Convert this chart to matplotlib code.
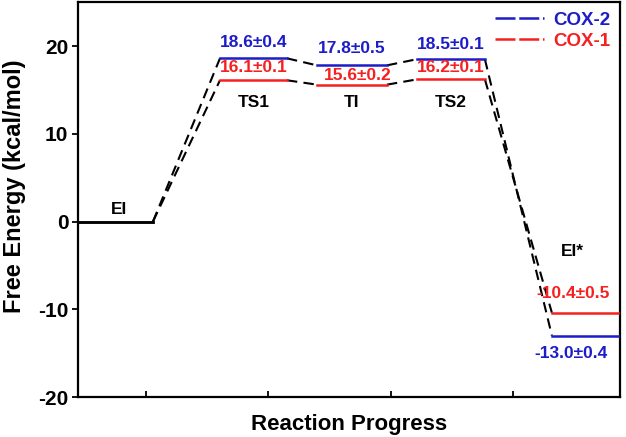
import matplotlib.pyplot as plt
from matplotlib.lines import Line2D

plt.rcParams['font.family'] = ['Liberation Sans', 'DejaVu Sans']
plt.rcParams['font.weight'] = 'bold'
plt.rcParams['axes.unicode_minus'] = False

# states along the reaction path
states = ['EI', 'TS1', 'TI', 'TS2', 'EI*']
x_start = [0.445, 1.604, 2.396, 3.212, 4.314]
x_end = [1.057, 2.151, 2.967, 3.767, 4.857]

cox2 = [0.0, 18.6, 17.8, 18.5, -13.0]
cox2_err = [None, 0.4, 0.5, 0.1, 0.4]
cox1 = [0.0, 16.1, 15.6, 16.2, -10.4]
cox1_err = [None, 0.1, 0.2, 0.1, 0.5]

blue = '#1c1cc8'
red = '#f52020'

fig = plt.figure(figsize=(6.26, 4.37), dpi=100)
ax = fig.add_axes([0.1246, 0.0915, 0.8658, 0.9035])

for energies, col in [(cox1, red), (cox2, blue)]:
    for i in range(len(states)):
        c = 'black' if i == 0 else col
        ax.plot([x_start[i], x_end[i]], [energies[i], energies[i]], color=c, lw=1.8, zorder=3)
    for i in range(len(states) - 1):
        ax.plot([x_end[i], x_start[i + 1]], [energies[i], energies[i + 1]],
                color='black', lw=1.5, ls=(0, (5, 3)), zorder=2)

# state names
name_pos = [(0.78, 1.4), (1.88, 13.6), (2.68, 13.6), (3.49, 13.6), (4.48, -3.4)]
for s, (tx, ty) in zip(states, name_pos):
    ax.text(tx, ty, s, ha='center', va='center', fontsize=12.5, fontweight='bold')

# value labels
blue_pos = [None, (1.88, 20.4), (2.68, 19.7), (3.49, 20.2), (4.47, -15.0)]
red_pos = [None, (1.88, 17.6), (2.73, 16.6), (3.49, 17.5), (4.49, -8.2)]
for i in range(1, len(states)):
    ax.text(*blue_pos[i], '%.1f±%.1f' % (cox2[i], cox2_err[i]), ha='center', va='center',
            color=blue, fontsize=12.5, fontweight='bold')
    ax.text(*red_pos[i], '%.1f±%.1f' % (cox1[i], cox1_err[i]), ha='center', va='center',
            color=red, fontsize=12.5, fontweight='bold')

ax.set_xlim(0.445, 4.87)
ax.set_ylim(-20, 25)
ax.set_xticks([1, 2, 3, 4])
ax.set_xticklabels([])
ax.set_yticks([-20, -10, 0, 10, 20])
ax.tick_params(axis='x', direction='in', length=4, width=1.3)
ax.tick_params(axis='y', direction='out', length=4, width=1.3, labelsize=15, pad=3)
for lab in ax.get_yticklabels():
    lab.set_fontweight('bold')
for sp in ax.spines.values():
    sp.set_linewidth(1.6)

ax.set_ylabel('Free Energy (kcal/mol)', fontsize=17, fontweight='bold')
ax.yaxis.set_label_coords(-0.096, 0.535)
ax.set_xlabel('Reaction Progress', fontsize=16, fontweight='bold', labelpad=9)

handles = [Line2D([], [], color=blue, lw=1.8, ls=(0, (8, 1.5))),
           Line2D([], [], color=red, lw=1.8, ls=(0, (8, 1.5)))]
leg = ax.legend(handles, ['COX-2', 'COX-1'], loc='upper right', frameon=False,
                fontsize=13.5, handlelength=2.6, handletextpad=0.5, borderaxespad=0.1,
                labelspacing=0.2)
for t, c in zip(leg.get_texts(), [blue, red]):
    t.set_color(c)
    t.set_fontweight('bold')

fig.savefig('out.png', dpi=100)
